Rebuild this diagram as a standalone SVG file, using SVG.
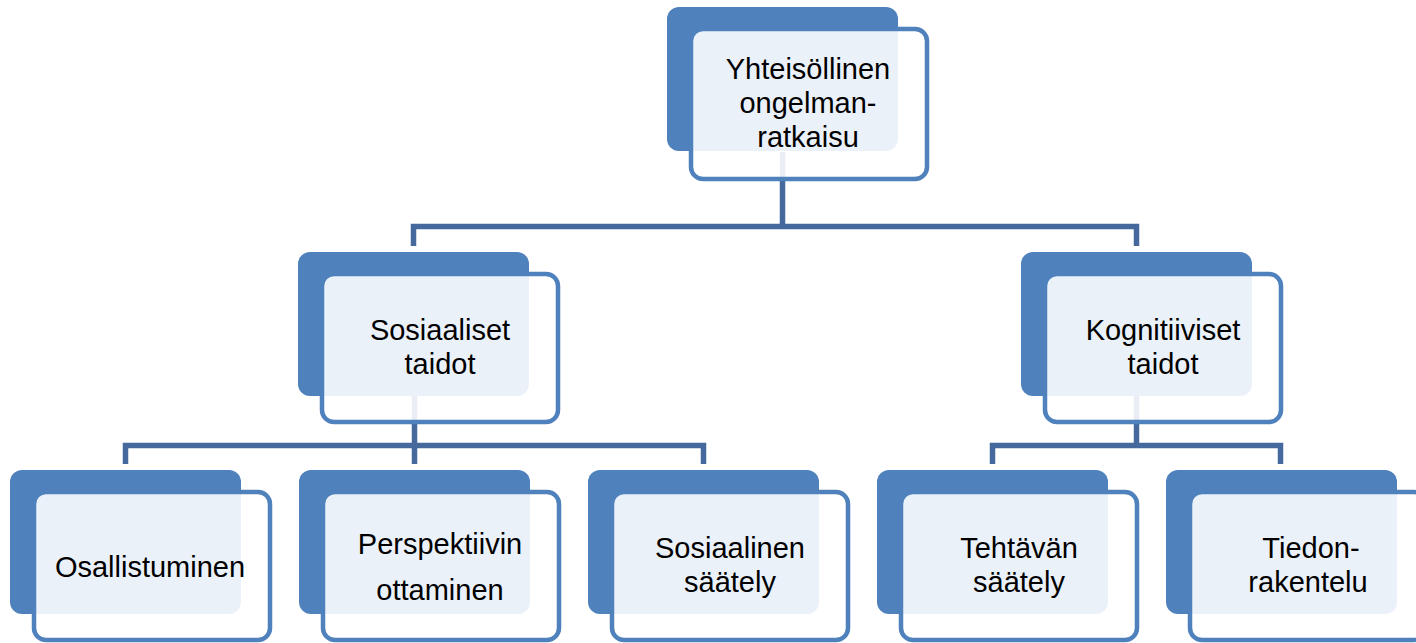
<svg xmlns="http://www.w3.org/2000/svg" width="1416" height="643" viewBox="0 0 1416 643">
<defs>
<style>
.bg{fill:#4f81bd}
.fr{fill:#ffffff;fill-opacity:0.89;stroke:#4f81bd;stroke-width:4.5}
.t{font-family:"Liberation Sans",Arial,sans-serif;font-size:29px;fill:#000;text-anchor:middle}
.c{fill:none;stroke:#45699c;stroke-width:5.5;stroke-linejoin:miter}
</style>
</defs>
<rect width="1416" height="643" fill="#ffffff"/>
<g id="connectors">
<path class="c" d="M782.5,152 V226.5"/>
<path class="c" d="M413.5,246 V226.5 H1136.5 V246"/>
<path class="c" d="M414.5,395 V464"/>
<path class="c" d="M125.5,464 V445.5 H703.5 V464"/>
<path class="c" d="M1136.5,395 V445.5"/>
<path class="c" d="M992.5,464 V445.5 H1280.5 V464"/>
</g>
<g id="node-top">
<rect class="bg" x="667" y="7" width="231" height="144" rx="12"/>
<rect class="fr" x="691" y="29" width="236" height="150" rx="12"/>
<text class="t" x="808" y="79">Yhteisöllinen</text>
<text class="t" x="808" y="113">ongelman-</text>
<text class="t" x="808" y="147">ratkaisu</text>
</g>
<g id="node-sosiaaliset">
<rect class="bg" x="298" y="252" width="231" height="144" rx="12"/>
<rect class="fr" x="322" y="274" width="236" height="148" rx="12"/>
<text class="t" x="440" y="340">Sosiaaliset</text>
<text class="t" x="440" y="374">taidot</text>
</g>
<g id="node-kognitiiviset">
<rect class="bg" x="1021" y="252" width="231" height="144" rx="12"/>
<rect class="fr" x="1045" y="274" width="236" height="148" rx="12"/>
<text class="t" x="1163" y="340">Kognitiiviset</text>
<text class="t" x="1163" y="374">taidot</text>
</g>
<g id="node-osallistuminen">
<rect class="bg" x="10" y="470" width="231" height="144" rx="12"/>
<rect class="fr" x="34" y="492" width="236" height="148" rx="12"/>
<text class="t" x="150" y="577">Osallistuminen</text>
</g>
<g id="node-perspektiivin">
<rect class="bg" x="299" y="470" width="231" height="144" rx="12"/>
<rect class="fr" x="323" y="492" width="236" height="148" rx="12"/>
<text class="t" x="440" y="554">Perspektiivin</text>
<text class="t" x="440" y="600">ottaminen</text>
</g>
<g id="node-sosiaalinen">
<rect class="bg" x="588" y="470" width="231" height="144" rx="12"/>
<rect class="fr" x="612" y="492" width="236" height="148" rx="12"/>
<text class="t" x="730" y="558">Sosiaalinen</text>
<text class="t" x="730" y="592">säätely</text>
</g>
<g id="node-tehtavan">
<rect class="bg" x="877" y="470" width="231" height="144" rx="12"/>
<rect class="fr" x="901" y="492" width="236" height="148" rx="12"/>
<text class="t" x="1019" y="558">Tehtävän</text>
<text class="t" x="1019" y="592">säätely</text>
</g>
<g id="node-tiedon">
<rect class="bg" x="1166" y="470" width="231" height="144" rx="12"/>
<rect class="fr" x="1190" y="492" width="236" height="148" rx="12"/>
<text class="t" x="1311" y="558">Tiedon-</text>
<text class="t" x="1308" y="592">rakentelu</text>
</g>
</svg>
